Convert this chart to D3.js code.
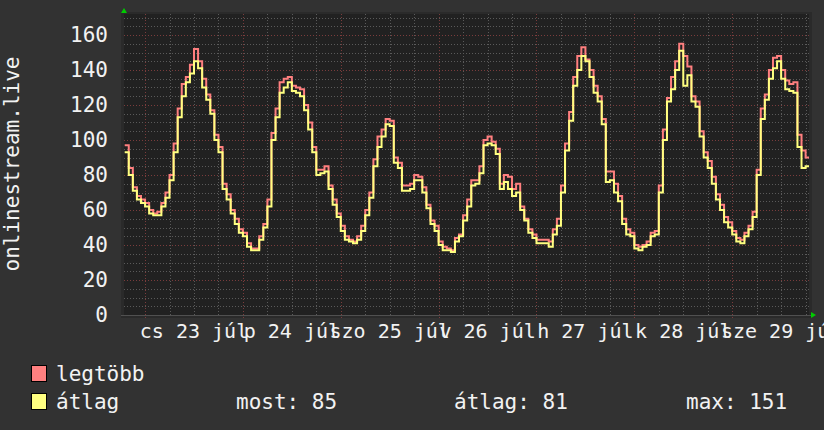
<!DOCTYPE html>
<html>
<head>
<meta charset="utf-8">
<script src="https://cdn.jsdelivr.net/npm/d3@7"></script>
<style>
  body { margin: 0; background: #323232; }
  svg { display: block; font-family: "DejaVu Sans Mono", monospace; }
</style>
</head>
<body>
<div id="chart"></div>
<script>
// Dados: uma leitura por hora, a partir de 22 jul 19:00
const startHour = new Date(2020, 6, 22, 19, 0);
const maxValues = [97, 84, 73, 68, 66, 64, 60, 58, 59, 64, 70, 80, 98, 118, 132, 136, 143, 152, 145, 135,
  126, 117, 103, 96, 75, 69, 60, 55, 49, 47, 41, 38, 38, 45, 52, 66, 104, 118, 133, 135,
  136, 131, 130, 129, 120, 110, 96, 83, 83, 85, 74, 66, 58, 51, 45, 43, 42, 45, 51, 60,
  70, 89, 102, 106, 112, 111, 90, 87, 74, 74, 75, 80, 79, 73, 63, 54, 51, 42, 39, 38,
  37, 44, 46, 57, 66, 77, 77, 85, 100, 102, 99, 95, 75, 80, 79, 72, 75, 62, 55, 49,
  46, 43, 43, 43, 42, 49, 55, 74, 98, 116, 136, 148, 153, 146, 140, 131, 125, 112, 82, 82,
  75, 68, 55, 49, 47, 40, 39, 40, 42, 47, 48, 74, 106, 124, 136, 145, 155, 148, 142, 125,
  122, 105, 93, 88, 79, 69, 63, 56, 53, 48, 44, 43, 47, 51, 59, 83, 118, 126, 140, 147,
  148, 140, 134, 132, 133, 103, 94, 90];
const avgValues = [93, 80, 71, 66, 64, 62, 58, 57, 57, 62, 67, 77, 93, 113, 125, 133, 138, 145, 141, 130,
  123, 115, 100, 93, 72, 66, 58, 52, 47, 45, 39, 37, 37, 43, 50, 62, 100, 113, 127, 130,
  133, 128, 127, 125, 117, 106, 93, 80, 81, 82, 72, 63, 56, 48, 43, 42, 41, 43, 48, 57,
  67, 85, 96, 102, 109, 108, 87, 84, 71, 71, 72, 77, 77, 70, 61, 52, 48, 40, 37, 37,
  36, 42, 45, 54, 62, 74, 75, 81, 97, 98, 97, 92, 72, 76, 72, 68, 70, 60, 54, 47,
  44, 41, 41, 41, 39, 46, 51, 70, 94, 111, 131, 140, 148, 145, 136, 127, 122, 109, 76, 77,
  70, 65, 52, 46, 45, 38, 37, 39, 40, 45, 46, 70, 100, 122, 129, 140, 151, 131, 137, 122,
  119, 102, 90, 84, 75, 66, 60, 53, 50, 46, 42, 41, 45, 49, 56, 80, 112, 123, 135, 141,
  145, 135, 129, 128, 127, 96, 84, 85];
const yTicks = [0, 20, 40, 60, 80, 100, 120, 140, 160];
const dayLabels = ["cs 23 júl", "p 24 júl", "szo 25 júl", "v 26 júl", "h 27 júl", "k 28 júl", "sze 29 júl"];
const legendStats = [["most:", 85], ["átlag:", 81], ["max:", 151]];

const W = 824, H = 430;
const plotL = 124, plotR = 809, plotT = 14, plotB = 315;

const svg = d3.select("#chart").append("svg").attr("width", W).attr("height", H);
svg.append("rect").attr("width", W).attr("height", H).attr("fill", "#323232");

const x = d3.scaleTime()
  .domain([new Date(2020, 6, 22, 18, 50), new Date(2020, 6, 29, 18, 50)])
  .range([plotL, plotR]);
const y = d3.scaleLinear().domain([0, 172]).range([plotB, plotT]);

// Fundo da área do gráfico
svg.append("rect").attr("x", plotL - 3).attr("y", plotT - 2)
  .attr("width", plotR - plotL + 6).attr("height", plotB - plotT + 5).attr("fill", "#2a2a2a");
svg.append("rect").attr("x", plotL).attr("y", plotT)
  .attr("width", plotR - plotL).attr("height", plotB - plotT).attr("fill", "#212121");

// Grelha
const grid = svg.append("g").attr("stroke-width", 1).attr("stroke-dasharray", "1,2");
const minorY = d3.range(5, 172, 5).filter(v => v % 20 !== 0);
grid.selectAll(".hminor").data(minorY).join("line")
  .attr("x1", plotL).attr("x2", plotR)
  .attr("y1", d => Math.round(y(d)) + 0.5).attr("y2", d => Math.round(y(d)) + 0.5)
  .attr("stroke", "#5a5a5a");
const hours6 = d3.timeHour.every(6).range(x.domain()[0], x.domain()[1]).filter(d => d.getHours() !== 0);
grid.selectAll(".vminor").data(hours6).join("line")
  .attr("x1", d => Math.round(x(d)) + 0.5).attr("x2", d => Math.round(x(d)) + 0.5)
  .attr("y1", plotT).attr("y2", plotB)
  .attr("stroke", "#5a5a5a");
grid.selectAll(".hmajor").data(yTicks.slice(1)).join("line")
  .attr("x1", plotL).attr("x2", plotR)
  .attr("y1", d => Math.round(y(d)) + 0.5).attr("y2", d => Math.round(y(d)) + 0.5)
  .attr("stroke", "#7a3c3c");
const days = d3.timeDay.range(x.domain()[0], x.domain()[1]);
grid.selectAll(".vmajor").data(days).join("line")
  .attr("x1", d => Math.round(x(d)) + 0.5).attr("x2", d => Math.round(x(d)) + 0.5)
  .attr("y1", plotT).attr("y2", plotB + 3)
  .attr("stroke", "#7a3c3c");

// Eixos
svg.append("line").attr("x1", plotL - 3).attr("x2", plotR + 2)
  .attr("y1", plotB + 0.5).attr("y2", plotB + 0.5).attr("stroke", "#505050");
svg.append("path").attr("d", `M${plotL - 3},${plotT - 1}L${plotL},${plotT - 6}L${plotL + 3},${plotT - 1}Z`).attr("fill", "#00cc00");
svg.append("path").attr("d", `M${plotR + 2},${plotB - 3}L${plotR + 7},${plotB}L${plotR + 2},${plotB + 3}Z`).attr("fill", "#00cc00");

// Rótulos do eixo Y
svg.selectAll(".ylab").data(yTicks).join("text")
  .attr("x", 108).attr("y", d => y(d) + 7)
  .attr("text-anchor", "end").attr("fill", "#f2f2f2").attr("font-size", 21)
  .text(d => d);

// Rótulos dos dias (centrados ao meio-dia)
svg.selectAll(".xlab").data(days).join("text")
  .attr("x", d => x(d3.timeHour.offset(d, 12))).attr("y", 338)
  .attr("text-anchor", "middle").attr("fill", "#f2f2f2").attr("font-size", 20)
  .text((d, i) => dayLabels[i]);

// Título do eixo Y
svg.append("text")
  .attr("transform", "translate(19,164) rotate(-90)")
  .attr("text-anchor", "middle").attr("fill", "#f2f2f2").attr("font-size", 21)
  .text("onlinestream.live");

// Linhas em degrau
const toPoints = vals => {
  const pts = vals.map((v, i) => ({ t: d3.timeHour.offset(startHour, i), v }));
  pts.push({ t: x.domain()[1], v: vals[vals.length - 1] });
  return pts;
};
const line = d3.line().x(d => x(d.t)).y(d => y(d.v)).curve(d3.curveStepAfter);
svg.append("path").attr("d", line(toPoints(maxValues)))
  .attr("fill", "none").attr("stroke", "#ff7f7f").attr("stroke-width", 2);
svg.append("path").attr("d", line(toPoints(avgValues)))
  .attr("fill", "none").attr("stroke", "#ffff80").attr("stroke-width", 2);

// Legenda
const legend = [["legtöbb", "#ff8080", 365], ["átlag", "#ffff80", 393]];
legend.forEach(([name, color, ly]) => {
  svg.append("rect").attr("x", 31.5).attr("y", ly + 0.5).attr("width", 15).attr("height", 16)
    .attr("fill", color).attr("stroke", "#000");
  svg.append("text").attr("x", 56).attr("y", ly + 16)
    .attr("fill", "#f2f2f2").attr("font-size", 21).text(name);
});
const statX = [236, 454, 686];
legendStats.forEach(([label, val], i) => {
  svg.append("text").attr("x", statX[i]).attr("y", 409)
    .attr("fill", "#f2f2f2").attr("font-size", 21).text(`${label} ${val}`);
});
</script>
</body>
</html>
